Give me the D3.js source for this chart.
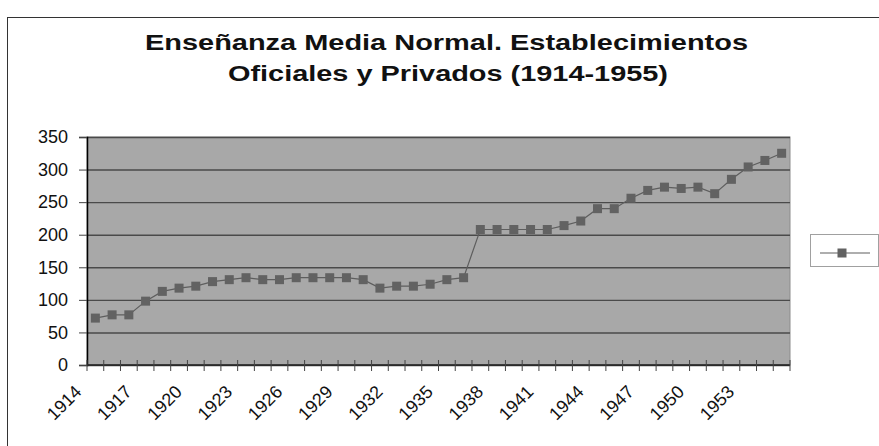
<!DOCTYPE html>
<html>
<head>
<meta charset="utf-8">
<script src="https://cdn.jsdelivr.net/npm/d3@7"></script>
<style>
  body { margin: 0; background: #fff; }
  svg { display: block; font-family: "Liberation Sans", Arial, sans-serif; }
</style>
</head>
<body>
<svg id="chart"></svg>
<script>
// values
const years = [1914,1915,1916,1917,1918,1919,1920,1921,1922,1923,1924,1925,1926,1927,
  1928,1929,1930,1931,1932,1933,1934,1935,1936,1937,1938,1939,1940,1941,1942,1943,
  1944,1945,1946,1947,1948,1949,1950,1951,1952,1953,1954,1955];
const establecimientos = [72,77,77,98,113,118,121,128,131,134,131,131,134,134,
  134,134,131,118,121,121,124,131,134,208,208,208,208,208,214,221,
  240,240,256,268,273,271,273,263,285,304,314,325];
const yTicks = [0,50,100,150,200,250,300,350];
const titleLines = ["Enseñanza Media Normal. Establecimientos", "Oficiales y Privados (1914-1955)"];
const titleWidths = [603, 440];

const width = 879, height = 446;
const plot = {left: 87, right: 790, top: 137, bottom: 365};

const svg = d3.select("#chart").attr("width", width).attr("height", height);

// chart area border
svg.append("rect")
  .attr("x", 7.5).attr("y", 17.5)
  .attr("width", 890).attr("height", 450)
  .attr("fill", "#fff").attr("stroke", "#333").attr("stroke-width", 1);

// title
svg.append("g").selectAll("text")
  .data(titleLines)
  .enter()
  .append("text")
  .attr("x", (d, i) => i === 0 ? 446.5 : 448)
  .attr("y", (d, i) => 49.5 + i * 31.5)
  .attr("text-anchor", "middle")
  .attr("font-size", 22)
  .attr("font-weight", "bold")
  .attr("fill", "#111")
  .attr("textLength", (d, i) => titleWidths[i])
  .attr("lengthAdjust", "spacingAndGlyphs")
  .text(d => d);

const x = d3.scaleBand().domain(years).range([plot.left, plot.right]).padding(0);
const y = d3.scaleLinear().domain([0, 350]).range([plot.bottom, plot.top]);

// plot background
svg.append("rect")
  .attr("x", plot.left).attr("y", plot.top)
  .attr("width", plot.right - plot.left).attr("height", plot.bottom - plot.top)
  .attr("fill", "#a8a8a8")
  .attr("stroke", "#8c8c8c");

// gridlines
svg.append("g")
  .attr("transform", "translate(" + plot.left + ",0)")
  .call(d3.axisLeft(y).tickValues(yTicks).tickSize(-(plot.right - plot.left)).tickFormat(""))
  .call(g => g.select(".domain").remove())
  .call(g => g.selectAll("line").attr("stroke", "#4a4a4a").attr("stroke-width", 1.4));

// y axis
svg.append("g")
  .attr("transform", "translate(" + plot.left + ",0)")
  .call(d3.axisLeft(y).tickValues(yTicks).tickSize(8).tickPadding(11))
  .call(g => g.select(".domain").attr("stroke", "#000").attr("stroke-width", 1.5))
  .call(g => g.selectAll("line").attr("stroke", "#444"))
  .call(g => g.selectAll("text")
    .attr("font-size", 18)
    .attr("font-family", "Liberation Sans, Arial, sans-serif")
    .attr("fill", "#111"));

// x axis line + crossing ticks at band edges
const xAxis = svg.append("g");
xAxis.append("line")
  .attr("x1", plot.left).attr("x2", plot.right)
  .attr("y1", plot.bottom).attr("y2", plot.bottom)
  .attr("stroke", "#222").attr("stroke-width", 1.5);
const edges = years.map(d => x(d)).concat([plot.right]);
xAxis.selectAll("line.tick")
  .data(edges)
  .enter()
  .append("line")
  .attr("class", "tick")
  .attr("x1", d => d).attr("x2", d => d)
  .attr("y1", plot.bottom - 5).attr("y2", plot.bottom + 6)
  .attr("stroke", "#444");

// rotated year labels, every third year
xAxis.selectAll("text")
  .data(years.filter((d, i) => i % 3 === 0))
  .enter()
  .append("text")
  .attr("text-anchor", "end")
  .attr("font-size", 18)
  .attr("fill", "#111")
  .attr("transform", d => "translate(" + (x(d) + x.bandwidth() / 2 - 12.7) + ",393) rotate(-45)")
  .text(d => d);

// series line
const cx = d => x(d) + x.bandwidth() / 2;
const line = d3.line()
  .x((d, i) => cx(years[i]))
  .y(d => y(d));

svg.append("path")
  .datum(establecimientos)
  .attr("d", line)
  .attr("fill", "none")
  .attr("stroke", "#5e5e5e")
  .attr("stroke-width", 1.2);

const ms = 9;
svg.append("g").selectAll("rect")
  .data(establecimientos)
  .enter()
  .append("rect")
  .attr("x", (d, i) => cx(years[i]) - ms / 2)
  .attr("y", d => y(d) - ms / 2)
  .attr("width", ms).attr("height", ms)
  .attr("fill", "#626262");

// legend
const legend = svg.append("g");
legend.append("rect")
  .attr("x", 810.5).attr("y", 234.5)
  .attr("width", 68).attr("height", 32)
  .attr("fill", "#fff").attr("stroke", "#a0a0a0");
legend.append("line")
  .attr("x1", 820).attr("x2", 870)
  .attr("y1", 253).attr("y2", 253)
  .attr("stroke", "#5e5e5e").attr("stroke-width", 1.2);
legend.append("rect")
  .attr("x", 842 - ms / 2).attr("y", 253 - ms / 2)
  .attr("width", ms).attr("height", ms)
  .attr("fill", "#626262");
</script>
</body>
</html>
